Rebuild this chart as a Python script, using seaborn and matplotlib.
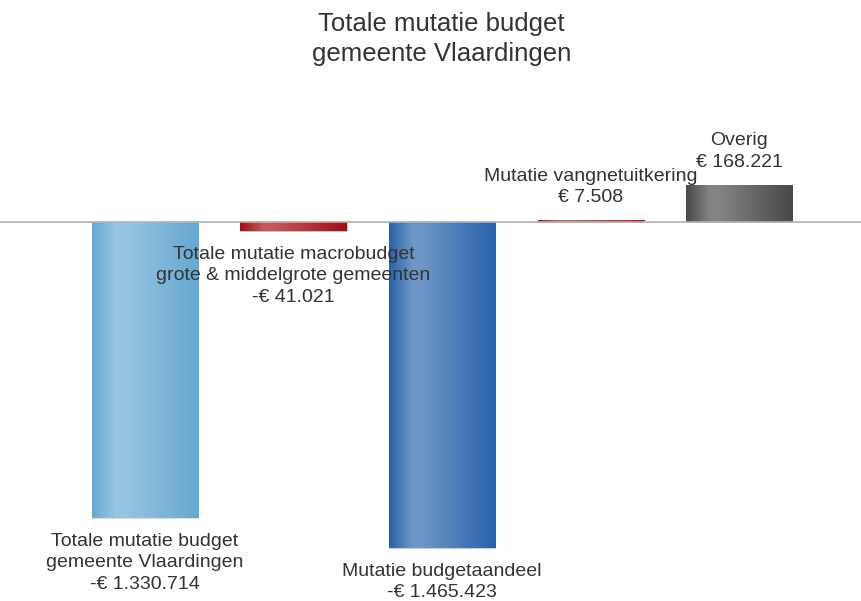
import numpy as np
import pandas as pd
import matplotlib.pyplot as plt
import matplotlib.colors as mcolors
import seaborn as sns

categories = ["Totale mutatie budget\ngemeente Vlaardingen",
              "Totale mutatie macrobudget\ngrote & middelgrote gemeenten",
              "Mutatie budgetaandeel",
              "Mutatie vangnetuitkering",
              "Overig"]
values = [-1330714, -41021, -1465423, 7508, 168221]
value_labels = ["-€ 1.330.714", "-€ 41.021", "-€ 1.465.423", "€ 7.508", "€ 168.221"]
base_colors = ["#65a8d2", "#a00d12", "#2763ab", "#b8121a", "#484848"]

df = pd.DataFrame({"cat": categories, "val": values})

sns.set_style("white")
plt.rcParams['font.family'] = ['Liberation Sans', 'DejaVu Sans']
fig = plt.figure(figsize=(8.61, 6.01), dpi=100)
ax = fig.add_axes([0, 0, 1, 1])

sns.barplot(data=df, x="cat", y="val", hue="cat", palette=base_colors,
            width=0.715, legend=False, ax=ax, saturation=1)

# cylinder-like horizontal shading
xs = np.linspace(0, 1, 200)
prof = np.interp(xs, [0, 0.22, 0.3, 1.0], [0.0, 0.33, 0.33, 0.0])
for patch, c in zip(ax.patches, base_colors):
    rgb = np.array(mcolors.to_rgb(c))
    grad = rgb[None, :] + (1 - rgb[None, :]) * prof[:, None]
    img = grad[None, :, :]
    x0, y0 = patch.get_x(), patch.get_y()
    w, h = patch.get_width(), patch.get_height()
    im = ax.imshow(img, extent=[x0, x0 + w, min(y0, y0 + h), max(y0, y0 + h)],
                   aspect="auto", zorder=patch.get_zorder() + 0.1, interpolation="bilinear")
    im.set_clip_path(patch)
    patch.set_edgecolor((1, 1, 1, 0.4))

ax.axhline(0, color="#b0b0b0", lw=1.2, zorder=5)

for i, (v, lab) in enumerate(zip(values, value_labels)):
    txt = categories[i] + "\n" + lab
    if v < 0:
        ax.annotate(txt, (i, v), xytext=(0, -10.5), textcoords="offset points",
                    ha="center", va="top", fontsize=14, color="#333333", linespacing=1.35)
    else:
        ax.annotate(txt, (i, v), xytext=(0, 10), textcoords="offset points",
                    ha="center", va="bottom", fontsize=14, color="#333333", linespacing=1.37)

scale = 4495.0
ax.set_ylim(-(601 - 222) * scale, 222 * scale)
ax.set_xlim(-0.976, 4.82)
ax.axis("off")

fig.text(0.513, 1 - 39 / 601, "Totale mutatie budget\ngemeente Vlaardingen",
         ha="center", va="center", fontsize=18.5, color="#333333", linespacing=1.33)

fig.savefig("out.png", dpi=100)
